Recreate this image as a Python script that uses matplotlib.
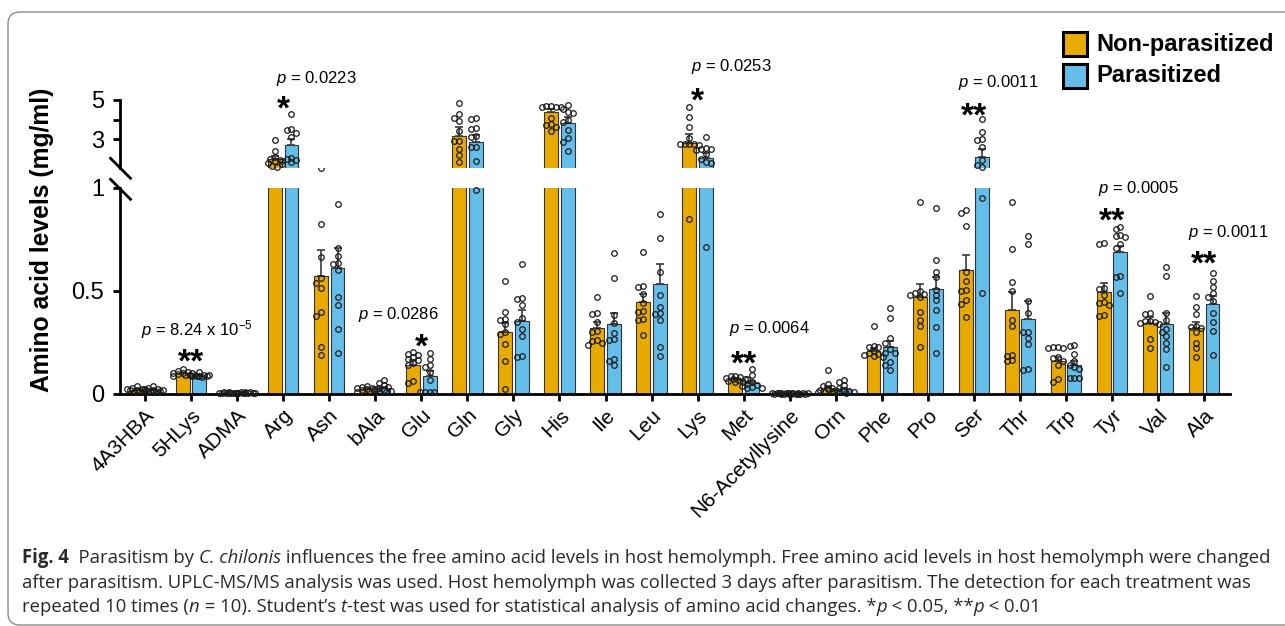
import numpy as np
import matplotlib
matplotlib.use("Agg")
import matplotlib.pyplot as plt
from matplotlib import font_manager
from matplotlib.patches import Rectangle, FancyBboxPatch
from matplotlib.lines import Line2D
from matplotlib.transforms import blended_transform_factory, IdentityTransform

# Données (mg/ml)
acides = ["4A3HBA", "5HLys", "ADMA", "Arg", "Asn", "bAla", "Glu", "Gln", "Gly", "His",
          "Ile", "Leu", "Lys", "Met", "N6-Acetyllysine", "Orn", "Phe", "Pro", "Ser",
          "Thr", "Trp", "Tyr", "Val", "Ala"]

moy_np = [0.02, 0.10, 0.006, 1.96, 0.574, 0.024, 0.141, 3.17, 0.30, 4.37, 0.319, 0.445,
          2.80, 0.072, 0.003, 0.028, 0.209, 0.472, 0.602, 0.408, 0.16, 0.497, 0.346, 0.319]
sem_np = [0.003, 0.004, 0.001, 0.18, 0.126, 0.003, 0.022, 0.45, 0.046, 0.17, 0.032, 0.04,
          0.46, 0.004, 0.0005, 0.01, 0.012, 0.06, 0.071, 0.086, 0.021, 0.043, 0.029, 0.032]
moy_p = [0.02, 0.089, 0.006, 2.71, 0.61, 0.03, 0.089, 2.86, 0.356, 3.80, 0.338, 0.534,
         2.01, 0.052, 0.003, 0.022, 0.227, 0.508, 2.06, 0.363, 0.141, 0.691, 0.338, 0.437]
sem_p = [0.003, 0.002, 0.001, 0.29, 0.10, 0.006, 0.021, 0.34, 0.052, 0.35, 0.057, 0.097,
         0.26, 0.009, 0.0005, 0.007, 0.032, 0.061, 0.45, 0.09, 0.021, 0.027, 0.057, 0.039]

# Mesures individuelles (n = 10)
pts_np = [
    [0.04, 0.03, 0.025, 0.022, 0.02, 0.02, 0.018, 0.015, 0.012, 0.01],
    [0.12, 0.11, 0.105, 0.103, 0.1, 0.1, 0.095, 0.092, 0.09, 0.085],
    [0.009, 0.008, 0.007, 0.007, 0.006, 0.006, 0.005, 0.005, 0.004, 0.003],
    [2.95, 2.4, 2.1, 2.0, 1.9, 1.85, 1.78, 1.7, 1.62, 1.58],
    [1.095, 0.825, 0.667, 0.561, 0.54, 0.513, 0.4, 0.379, 0.23, 0.189],
    [0.04, 0.035, 0.03, 0.028, 0.025, 0.022, 0.02, 0.018, 0.015, 0.012],
    [0.205, 0.195, 0.19, 0.18, 0.17, 0.165, 0.15, 0.14, 0.065, 0.055],
    [4.86, 4.27, 4.1, 3.94, 3.4, 2.92, 2.9, 2.47, 2.2, 1.8],
    [0.55, 0.4, 0.365, 0.36, 0.34, 0.3, 0.29, 0.245, 0.16, 0.023],
    [4.7, 4.68, 4.66, 4.65, 4.62, 4.06, 3.75, 3.72, 3.6, 3.43],
    [0.47, 0.395, 0.39, 0.35, 0.305, 0.3, 0.26, 0.255, 0.25, 0.238],
    [0.69, 0.524, 0.52, 0.485, 0.44, 0.405, 0.4, 0.363, 0.36, 0.286],
    [4.62, 4.15, 3.63, 3.03, 2.76, 2.74, 2.73, 2.72, 2.7, 0.85],
    [0.088, 0.085, 0.083, 0.08, 0.075, 0.072, 0.07, 0.065, 0.06, 0.058],
    [0.004, 0.004, 0.003, 0.003, 0.003, 0.003, 0.002, 0.002, 0.002, 0.002],
    [0.115, 0.05, 0.04, 0.03, 0.025, 0.02, 0.015, 0.012, 0.01, 0.008],
    [0.33, 0.235, 0.23, 0.228, 0.21, 0.2, 0.195, 0.19, 0.185, 0.18],
    [0.934, 0.5, 0.49, 0.485, 0.48, 0.47, 0.4, 0.36, 0.33, 0.23],
    [0.893, 0.88, 0.816, 0.594, 0.55, 0.505, 0.5, 0.456, 0.437, 0.372],
    [0.934, 0.704, 0.545, 0.501, 0.359, 0.33, 0.19, 0.185, 0.165, 0.16],
    [0.227, 0.227, 0.225, 0.224, 0.18, 0.176, 0.16, 0.14, 0.071, 0.06],
    [0.735, 0.73, 0.515, 0.51, 0.48, 0.445, 0.44, 0.43, 0.385, 0.38],
    [0.476, 0.395, 0.39, 0.355, 0.352, 0.35, 0.345, 0.34, 0.265, 0.222],
    [0.477, 0.424, 0.387, 0.33, 0.325, 0.32, 0.3, 0.249, 0.222, 0.178],
]
pts_p = [
    [0.04, 0.03, 0.025, 0.022, 0.02, 0.018, 0.016, 0.014, 0.01, 0.008],
    [0.105, 0.093, 0.092, 0.09, 0.09, 0.089, 0.088, 0.086, 0.085, 0.082],
    [0.01, 0.009, 0.008, 0.007, 0.006, 0.006, 0.005, 0.004, 0.004, 0.003],
    [4.3, 3.5, 3.45, 3.3, 3.1, 2.05, 2.0, 1.9, 1.85, 1.8],
    [0.922, 0.707, 0.67, 0.634, 0.63, 0.602, 0.472, 0.432, 0.314, 0.198],
    [0.07, 0.055, 0.045, 0.035, 0.03, 0.025, 0.02, 0.015, 0.012, 0.01],
    [0.2, 0.17, 0.14, 0.13, 0.105, 0.068, 0.012, 0.012, 0.011, 0.01],
    [4.1, 4.05, 3.55, 3.5, 3.15, 3.1, 2.6, 2.57, 1.89, 0.99],
    [0.63, 0.465, 0.46, 0.43, 0.37, 0.35, 0.315, 0.28, 0.185, 0.18],
    [4.74, 4.54, 4.4, 4.35, 4.0, 3.89, 3.46, 3.07, 2.87, 2.38],
    [0.683, 0.561, 0.383, 0.343, 0.294, 0.265, 0.26, 0.168, 0.16, 0.141],
    [0.874, 0.759, 0.594, 0.481, 0.42, 0.395, 0.39, 0.359, 0.23, 0.186],
    [3.09, 2.55, 2.5, 2.48, 2.45, 2.23, 2.0, 1.8, 1.78, 0.715],
    [0.12, 0.09, 0.075, 0.06, 0.05, 0.045, 0.04, 0.035, 0.03, 0.028],
    [0.004, 0.004, 0.003, 0.003, 0.003, 0.002, 0.002, 0.002, 0.002, 0.001],
    [0.07, 0.06, 0.045, 0.03, 0.02, 0.015, 0.012, 0.01, 0.008, 0.005],
    [0.416, 0.367, 0.27, 0.25, 0.217, 0.2, 0.197, 0.157, 0.14, 0.117],
    [0.904, 0.65, 0.594, 0.57, 0.505, 0.48, 0.456, 0.408, 0.324, 0.2],
    [4.03, 3.38, 3.0, 2.95, 2.61, 1.9, 1.67, 1.55, 0.95, 0.49],
    [0.767, 0.727, 0.453, 0.395, 0.302, 0.3, 0.27, 0.243, 0.12, 0.118],
    [0.238, 0.235, 0.193, 0.16, 0.14, 0.133, 0.12, 0.08, 0.079, 0.078],
    [0.81, 0.8, 0.77, 0.765, 0.76, 0.73, 0.71, 0.575, 0.57, 0.49],
    [0.615, 0.573, 0.395, 0.36, 0.314, 0.3, 0.28, 0.249, 0.22, 0.133],
    [0.589, 0.549, 0.518, 0.49, 0.47, 0.45, 0.395, 0.351, 0.306, 0.189],
]

# Différences significatives : étoiles et valeur p
etoiles = {"5HLys": "**", "Arg": "*", "Glu": "*", "Lys": "*",
           "Met": "**", "Ser": "**", "Tyr": "**", "Ala": "**"}
valeurs_p = {"5HLys": r"$p$ = 8.24 x 10$^{-5}$", "Arg": r"$p$ = 0.0223",
             "Glu": r"$p$ = 0.0286", "Lys": r"$p$ = 0.0253", "Met": r"$p$ = 0.0064",
             "Ser": r"$p$ = 0.0011", "Tyr": r"$p$ = 0.0005", "Ala": r"$p$ = 0.0011"}
# placement (pixels) : y étoile, y texte p, décalage x du texte p
place_sig = {"5HLys": (353, 330, 0.13), "Arg": (100, 78, 0.72), "Glu": (338, 314, -0.5),
             "Lys": (92, 67, 0.74), "Met": (355, 328, 0.56), "Ser": (107, 83, 0.52),
             "Tyr": (212, 188, 0.56), "Ala": (255, 233, 0.52)}

ORANGE = "#E9AA00"
BLEU = "#63BEEA"
W, H = 1285, 626

plt.rcParams["font.family"] = "Liberation Sans"
plt.rcParams["mathtext.fontset"] = "custom"
plt.rcParams["mathtext.rm"] = "Liberation Sans"
plt.rcParams["mathtext.it"] = "Liberation Sans:italic"
plt.rcParams["mathtext.bf"] = "Liberation Sans:bold"

fig = plt.figure(figsize=(W / 100, H / 100), dpi=100)


def boite(x0, y0, x1, y1):
    # pixels (origine en haut à gauche) -> fraction de figure
    return [x0 / W, 1 - y1 / H, (x1 - x0) / W, (y1 - y0) / H]


ax_bas = fig.add_axes(boite(120, 188, 1230, 394))
ax_haut = fig.add_axes(boite(120, 100, 1230, 168.25))

x = np.arange(len(acides))
dec, larg = 0.18, 0.30
for ax in (ax_bas, ax_haut):
    ax.bar(x - dec, moy_np, larg, color=ORANGE, edgecolor="#333333", linewidth=0.8, zorder=2)
    ax.bar(x + dec, moy_p, larg, color=BLEU, edgecolor="#333333", linewidth=0.8, zorder=2)
    ax.errorbar(x - dec, moy_np, yerr=[np.zeros(len(x)), sem_np], fmt="none",
                ecolor="#3a3a3a", elinewidth=1.2, capsize=2.6, capthick=1.2, zorder=3)
    ax.errorbar(x + dec, moy_p, yerr=[np.zeros(len(x)), sem_p], fmt="none",
                ecolor="#3a3a3a", elinewidth=1.2, capsize=2.6, capthick=1.2, zorder=3)
    ax.set_xlim(-0.543, 23.56)
    ax.spines["top"].set_visible(False)
    ax.spines["right"].set_visible(False)
    ax.spines["left"].set_linewidth(2)
    ax.spines["bottom"].set_linewidth(2)
    ax.tick_params(axis="both", width=2, length=5, labelsize=17)
    ax.tick_params(axis="y", pad=6.5)

ax_bas.set_ylim(0, 1)
ax_bas.set_yticks([0, 0.5, 1])
ax_bas.set_yticklabels(["0", "0.5", "1"])
ax_bas.set_xticks(x)
ax_bas.set_xticklabels(acides, rotation=45, ha="right", rotation_mode="anchor", fontsize=15)

ax_haut.set_ylim(1.5, 5)
ax_haut.set_yticks([3, 4, 5])
ax_haut.set_yticklabels(["3", "", "5"])
ax_haut.spines["bottom"].set_visible(False)
ax_haut.set_xticks([])


# Points individuels, répartis en essaim dans la largeur de la barre
def essaim(ys, d=4.8):
    cands = [0, -d, d, -d / 2, d / 2, -1.5 * d, 1.5 * d, -2 * d, 2 * d]
    places = []
    for y in ys:
        meilleur, dist_max = cands[0], -1
        for c in cands:
            dist = min([np.hypot(c - a, y - b) for a, b in places] or [99])
            if dist >= d * 0.95:
                meilleur = c
                break
            if dist > dist_max:
                meilleur, dist_max = c, dist
        places.append((meilleur, y))
    return [p[0] for p in places]


px_unite = ax_bas.transData.transform([[1, 0]])[0][0] - ax_bas.transData.transform([[0, 0]])[0][0]
for i in range(len(acides)):
    for centre, valeurs in ((i - dec, pts_np[i]), (i + dec, pts_p[i])):
        ys_px, axes = [], []
        for v in valeurs:
            ax = ax_haut if v >= 1.45 else ax_bas
            axes.append(ax)
            ys_px.append(ax.transData.transform([[0, v]])[0][1])
        offs = essaim(ys_px)
        for v, ax, o in zip(valeurs, axes, offs):
            ax.plot(centre + o / px_unite, v, "o", ms=4, mfc="none", mec="#1a1a1a",
                    mew=0.9, clip_on=False, zorder=4)

# Coupure de l'axe
for yc in (168.3, 189.3):
    fig.add_artist(Line2D([110.5 / W, 130.5 / W], [1 - (yc - 10) / H, 1 - (yc + 10) / H],
                          color="black", lw=2, transform=fig.transFigure))

fig.text(42 / W, 1 - 240 / H, "Amino acid levels (mg/ml)", rotation=90, ha="center",
         va="center", fontsize=17.7, weight="bold")

# Étoiles et valeurs p
trans = blended_transform_factory(ax_bas.transData, fig.transFigure)
for nom, txt in etoiles.items():
    i = acides.index(nom)
    y_et, y_p, dx = place_sig[nom]
    fig.text(i, 1 - (y_et + 19) / H, txt, transform=trans, ha="center", va="baseline",
             fontsize=24, weight="bold")
    fig.text(i + dx, 1 - y_p / H, valeurs_p[nom], transform=trans, ha="center",
             va="center", fontsize=12)

# Légende
for y0, coul, nom in ((32, ORANGE, "Non-parasitized"), (64, BLEU, "Parasitized")):
    fig.add_artist(Rectangle((1063 / W, 1 - (y0 + 24) / H), 24 / W, 24 / H, facecolor=coul,
                             edgecolor="black", lw=2.2, transform=fig.transFigure))
    fig.text(1096 / W, 1 - (y0 + 12) / H, nom, ha="left", va="center", fontsize=17,
             weight="bold")

# Cadre arrondi
fig.add_artist(FancyBboxPatch((8, 1), 1300, 613, boxstyle="round,pad=0,rounding_size=12",
                              facecolor="none", edgecolor="#8c8c8c", lw=1,
                              transform=IdentityTransform()))

# Légende de la figure
noms = {f.name for f in font_manager.fontManager.ttflist}
fam = "Liberation Sans Narrow" if "Liberation Sans Narrow" in noms else "Open Sans"
lignes = [
    [("Fig. 4", "b"), ("  Parasitism by ", ""), ("C. chilonis", "i"),
     (" influences the free amino acid levels in host hemolymph. Free amino acid levels in host hemolymph were changed", "")],
    [("after parasitism. UPLC-MS/MS analysis was used. Host hemolymph was collected 3 days after parasitism. The detection for each treatment was", "")],
    [("repeated 10 times (", ""), ("n", "i"), (" = 10). Student\u2019s ", ""), ("t", "i"),
     ("-test was used for statistical analysis of amino acid changes. *", ""), ("p", "i"),
     (" < 0.05, **", ""), ("p", "i"), (" < 0.01", "")],
]
rend = fig.canvas.get_renderer()


def style_kw(st, taille):
    return dict(fontsize=taille, family=fam, color="#2a2a2a",
                weight="bold" if st == "b" else "normal",
                style="italic" if st == "i" else "normal")


def largeur(txt, st, taille):
    t1 = fig.text(0, 0, "x" + txt + "x", **style_kw(st, taille))
    t2 = fig.text(0, 0, "xx", **style_kw(st, taille))
    w = t1.get_window_extent(renderer=rend).width - t2.get_window_extent(renderer=rend).width
    t1.remove()
    t2.remove()
    return w


w13 = sum(largeur(t, s, 13) for t, s in lignes[0])
taille = 13 * (1265 - 22) / w13
for k, ligne in enumerate(lignes):
    xc = 22
    for txt, st in ligne:
        fig.text(xc / W, 1 - (563 + 24.5 * k) / H, txt, ha="left", va="baseline",
                 **style_kw(st, taille))
        xc += largeur(txt, st, taille)

fig.savefig("out.png", dpi=100)
